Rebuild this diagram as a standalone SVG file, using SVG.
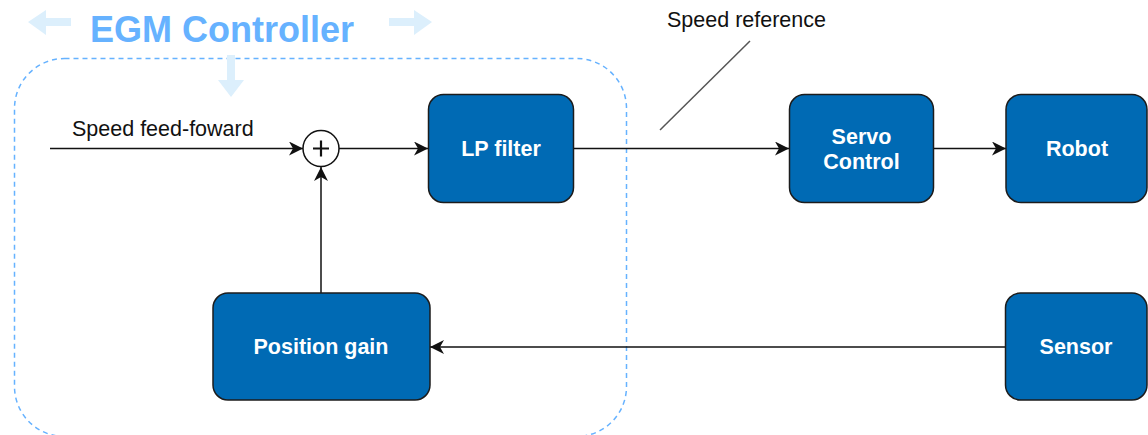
<svg xmlns="http://www.w3.org/2000/svg" width="1148" height="435" viewBox="0 0 1148 435">
<style>
.node{fill:#006ab4;stroke:#1c1c1c;stroke-width:1.5}
.nt{font-family:"Liberation Sans",Arial,sans-serif;font-size:21.5px;font-weight:bold;fill:#ffffff;text-anchor:middle}
.lbl{font-family:"Liberation Sans",Arial,sans-serif;font-size:21.5px;fill:#111111}
.edge{fill:none;stroke:#111111;stroke-width:1.5}
.hint{fill:#dceffc}
</style>
<defs>
<marker id="arr" markerUnits="userSpaceOnUse" markerWidth="16" markerHeight="14" refX="14" refY="7" orient="auto">
<path d="M0,0 L14,7 L0,14 L4,7 z" fill="#111111"/>
</marker>
</defs>
<g id="container">
<rect x="14.5" y="58.5" width="612" height="378" rx="50" ry="50" fill="none" stroke="#66b2ff" stroke-width="1.5" stroke-dasharray="5 4"/>
<text x="222" y="42" font-family="'Liberation Sans',Arial,sans-serif" font-size="36" font-weight="bold" fill="#66b2ff" text-anchor="middle">EGM Controller</text>
<path class="hint" d="M28,22 L46,10 L46,18 L71,18 L71,26 L46,26 L46,35 z"/>
<path class="hint" d="M432,22 L414,10 L414,18 L389,18 L389,26 L414,26 L414,35 z"/>
<path class="hint" d="M231,97 L218,80 L227,80 L227,55 L235,55 L235,80 L244,80 z"/>
</g>
<g id="connectors">
<line class="edge" x1="50" y1="148.5" x2="303" y2="148.5" marker-end="url(#arr)"/>
<line class="edge" x1="339" y1="148.5" x2="428" y2="148.5" marker-end="url(#arr)"/>
<line class="edge" x1="574" y1="148.5" x2="789" y2="148.5" marker-end="url(#arr)"/>
<line class="edge" x1="934" y1="148.5" x2="1006" y2="148.5" marker-end="url(#arr)"/>
<line class="edge" x1="321" y1="293" x2="321" y2="167" marker-end="url(#arr)"/>
<line class="edge" x1="1005" y1="347" x2="430" y2="347" marker-end="url(#arr)"/>
<line x1="660" y1="130" x2="750" y2="41" stroke="#555555" stroke-width="1.5"/>
<text class="lbl" x="72" y="136">Speed feed-foward</text>
<text class="lbl" x="667" y="27">Speed reference</text>
</g>
<g id="sum">
<circle cx="321" cy="148.5" r="18" fill="#ffffff" stroke="#111111" stroke-width="1.5"/>
<path d="M313,148.5 H329 M321,140.5 V156.5" stroke="#111111" stroke-width="2.2"/>
</g>
<g id="lp-filter">
<rect class="node" x="428.5" y="94.5" width="145" height="108" rx="15"/>
<text class="nt" x="501" y="156">LP filter</text>
</g>
<g id="servo-control">
<rect class="node" x="789.5" y="94.5" width="144" height="108" rx="15"/>
<text class="nt" x="861.5" y="144">Servo</text>
<text class="nt" x="861.5" y="169">Control</text>
</g>
<g id="robot">
<rect class="node" x="1006" y="94.5" width="141" height="108" rx="15"/>
<text class="nt" x="1077" y="156">Robot</text>
</g>
<g id="position-gain">
<rect class="node" x="213" y="293" width="217" height="107" rx="15"/>
<text class="nt" x="321" y="354">Position gain</text>
</g>
<g id="sensor">
<rect class="node" x="1005.5" y="293" width="141.5" height="107" rx="15"/>
<text class="nt" x="1076" y="354">Sensor</text>
</g>
</svg>
